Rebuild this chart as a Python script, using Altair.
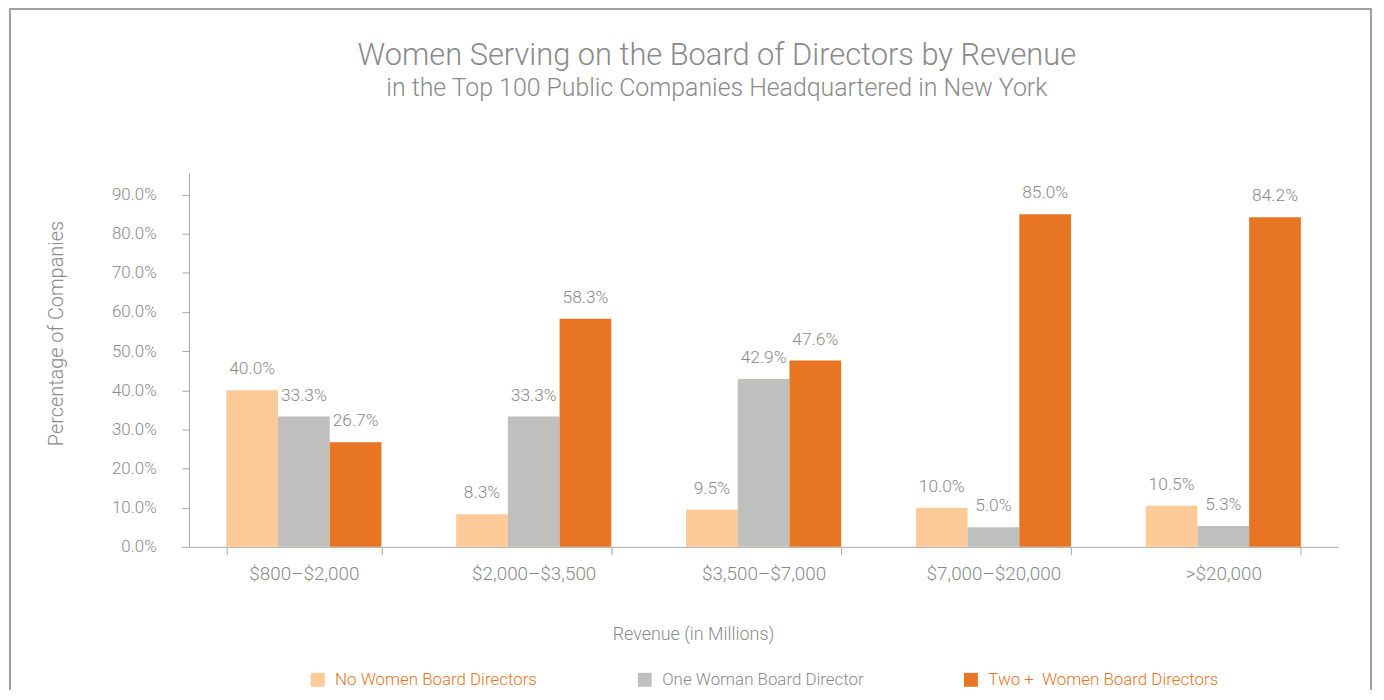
import altair as alt
import pandas as pd

categories = ["$800\u2013$2,000", "$2,000\u2013$3,500", "$3,500\u2013$7,000", "$7,000\u2013$20,000", ">$20,000"]
series = ["No Women Board Directors", "One Woman Board Director", "Two + \u00a0Women Board Directors"]
no_women = [0.400, 0.083, 0.095, 0.100, 0.105]
one_woman = [0.333, 0.333, 0.429, 0.050, 0.053]
two_plus = [0.267, 0.583, 0.476, 0.850, 0.842]
colors = ["#FDCA98", "#BFBFBD", "#E87524"]
y_ticks = [0.0, 0.1, 0.2, 0.3, 0.4, 0.5, 0.6, 0.7, 0.8, 0.9]

rows = []
for i, c in enumerate(categories):
    for s, vals in zip(series, [no_women, one_woman, two_plus]):
        rows.append({"category": c, "series": s, "value": vals[i]})
df = pd.DataFrame(rows)

FONT = "Roboto, Liberation Sans, sans-serif"
GRAY = "#8a8a8a"
W = 300

x = alt.X("category:N", sort=categories,
          scale=alt.Scale(paddingInner=0.325, paddingOuter=0.1625),
          axis=alt.Axis(title="Revenue (in Millions)", labelAngle=0, tickBand="extent",
                        tickSize=8, labelPadding=10, labelFontSize=19, titleFontSize=18,
                        labelFontWeight=W, titleFontWeight=W,
                        titleX=507, titleY=88, titleBaseline="middle",
                        domainColor="#a6a6a6", tickColor="#a6a6a6", labelColor=GRAY, titleColor=GRAY,
                        labelFont=FONT, titleFont=FONT))
xo = alt.XOffset("series:N", sort=series)
y = alt.Y("value:Q", scale=alt.Scale(domain=[0, 0.955], nice=False),
          axis=alt.Axis(title="Percentage of Companies", values=y_ticks, format=".1%",
                        grid=False, tickSize=7, labelPadding=26, labelFontSize=17,
                        labelFontWeight=W, titleFontWeight=W,
                        titleFontSize=20, titleX=-133, titleY=161,
                        titleBaseline="middle", titleAlign="center",
                        domainColor="#a6a6a6", tickColor="#a6a6a6", labelColor=GRAY, titleColor=GRAY,
                        labelFont=FONT, titleFont=FONT))

bars = alt.Chart(df).mark_bar().encode(
    x=x, xOffset=xo, y=y,
    color=alt.Color("series:N", sort=series, scale=alt.Scale(domain=series, range=colors),
                    legend=alt.Legend(title=None, orient="none", direction="horizontal",
                                      legendX=121, legendY=501, symbolType="square",
                                      symbolSize=196, symbolStrokeWidth=0, labelFontSize=17,
                                      labelFont=FONT, labelFontWeight=W, labelOffset=9,
                                      columnPadding=99, labelLimit=400,
                                      labelColor=alt.expr("datum.label == 'One Woman Board Director' ? '#8a8a8a' : '#E87524'"))),
)

labels = alt.Chart(df).mark_text(baseline="bottom", dy=-12, fontSize=17.5, font=FONT,
                                 fontWeight=W, color=GRAY).encode(
    x=x, xOffset=xo, y=y, text=alt.Text("value:Q", format=".1%"),
)

frame = alt.Chart(alt.Data(values=[{}])).mark_rect(fill=None, stroke="#a0a0a0", strokeWidth=2, clip=False).encode(
    x=alt.value(-180), x2=alt.value(1189), y=alt.value(-165), y2=alt.value(600),
)

chart = alt.layer(frame, bars, labels).properties(
    width=1156, height=376,
    title=alt.TitleParams(text="Women Serving on the Board of Directors by Revenue",
                          subtitle="in the Top 100 Public Companies Headquartered in New York",
                          fontSize=31, subtitleFontSize=25, font=FONT, subtitleFont=FONT,
                          fontWeight=W, subtitleFontWeight=W, color=GRAY, subtitleColor=GRAY,
                          anchor="middle", dx=-47, offset=-95, subtitlePadding=5),
    autosize=alt.AutoSizeParams(type="none"),
    padding={"left": 182, "top": 164, "right": 38, "bottom": 142},
    background="white",
).configure_view(stroke=None)

chart.save("out.html", embed_options={"renderer": "svg", "actions": False})
